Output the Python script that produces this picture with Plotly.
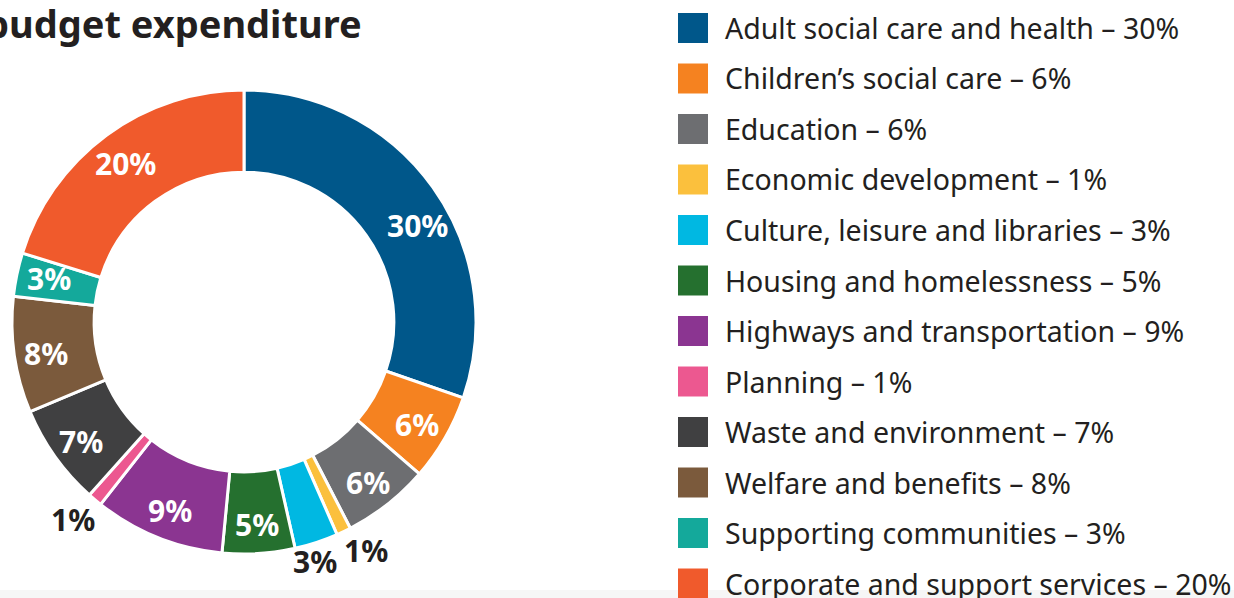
import math
import plotly.graph_objects as go

# Budget categories, shares (%) and colours
categories = [
    "Adult social care and health",
    "Children\u2019s social care",
    "Education",
    "Economic development",
    "Culture, leisure and libraries",
    "Housing and homelessness",
    "Highways and transportation",
    "Planning",
    "Waste and environment",
    "Welfare and benefits",
    "Supporting communities",
    "Corporate and support services",
]
shares = [30, 6, 6, 1, 3, 5, 9, 1, 7, 8, 3, 20]
colors = [
    "#00578a", "#f58220", "#6d6e71", "#fbc03d", "#00b8e2", "#25702f",
    "#8b3591", "#ec5890", "#404041", "#7b5a3c", "#14a99b", "#f05a2c",
]

# Slices whose label sits outside the ring, and small angular nudges for labels
outside_labels = {"Economic development", "Culture, leisure and libraries", "Planning"}
label_shift_deg = {"Adult social care and health": 5.5, "Supporting communities": 1.5}

W, H = 1234, 598
CX, CY, R = 244, 322, 232          # donut centre and outer radius (px)
HOLE = 0.646
INK = "#231f20"
FONT = "Noto Sans"


def px_to_paper(x, y):
    return x / W, 1 - y / H


fig = go.Figure()

fig.add_trace(go.Pie(
    labels=categories,
    values=shares,
    marker=dict(colors=colors, line=dict(color="white", width=3)),
    hole=HOLE,
    sort=False,
    direction="clockwise",
    rotation=0,
    textinfo="none",
    hoverinfo="label+percent",
    showlegend=False,
    domain=dict(x=[(CX - R) / W, (CX + R) / W],
                y=[1 - (CY + R) / H, 1 - (CY - R) / H]),
))

annotations = []
shapes = []

# Percentage labels around the ring, placed from cumulative slice angles
total = sum(shares)
cum = 0.0
r_mid = 200
r_out = R - 4
for name, v in zip(categories, shares):
    mid = (cum + v / 2) / total * 360 + label_shift_deg.get(name, 0)
    cum += v
    t = math.radians(mid)
    s, c = math.sin(t), math.cos(t)
    if name in outside_labels:
        x = CX + r_out * s
        y = CY - r_out * c
        xa = "left" if s > 0.35 else ("right" if s < -0.35 else "center")
        ya = "top" if c < -0.35 else ("bottom" if c > 0.35 else "middle")
        px, py = px_to_paper(x, y)
        annotations.append(dict(
            x=px, y=py, xref="paper", yref="paper", text=f"<b>{v}%</b>",
            showarrow=False, xanchor=xa, yanchor=ya,
            font=dict(family=FONT, size=30, color=INK),
        ))
    else:
        x = CX + r_mid * s
        y = CY - r_mid * c + 3
        px, py = px_to_paper(x, y)
        annotations.append(dict(
            x=px, y=py, xref="paper", yref="paper", text=f"<b>{v}%</b>",
            showarrow=False, xanchor="center", yanchor="middle",
            font=dict(family=FONT, size=30, color="white"),
        ))

# Legend: coloured squares with category text
LEG_X, LEG_Y0, LEG_DY, SQ = 678, 28, 50.5, 30
for i, (name, v, col) in enumerate(zip(categories, shares, colors)):
    yc = LEG_Y0 + i * LEG_DY
    x0, y0 = px_to_paper(LEG_X, yc + SQ / 2)
    x1, y1 = px_to_paper(LEG_X + SQ, yc - SQ / 2)
    shapes.append(dict(type="rect", xref="paper", yref="paper",
                       x0=x0, y0=y0, x1=x1, y1=y1,
                       fillcolor=col, line=dict(width=0)))
    tx, ty = px_to_paper(LEG_X + SQ + 15, yc)
    annotations.append(dict(
        x=tx, y=ty, xref="paper", yref="paper",
        text=f"{name} \u2013 {v}%", showarrow=False,
        xanchor="left", yanchor="middle",
        font=dict(family=FONT, size=28.5, color=INK),
    ))

# Title
tx, ty = px_to_paper(364, 23)
annotations.append(dict(
    x=tx, y=ty, xref="paper", yref="paper",
    text="<b>budget expenditure</b>", showarrow=False,
    xanchor="right", yanchor="middle",
    font=dict(family=FONT, size=38, color=INK),
))

# Faint footer band
shapes.append(dict(type="rect", xref="paper", yref="paper",
                   x0=0, x1=1, y0=0, y1=8 / H,
                   fillcolor="#f6f6f6", line=dict(width=0), layer="below"))

fig.update_layout(
    width=W, height=H,
    margin=dict(l=0, r=0, t=0, b=0),
    paper_bgcolor="white",
    plot_bgcolor="white",
    annotations=annotations,
    shapes=shapes,
)

fig.write_html("out.html")
